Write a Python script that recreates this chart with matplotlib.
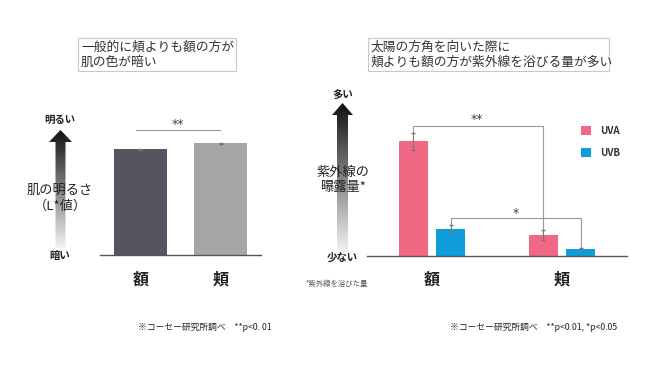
import numpy as np
import matplotlib
matplotlib.use("Agg")
import matplotlib.pyplot as plt
from matplotlib.patches import Polygon, Rectangle
from matplotlib.colors import LinearSegmentedColormap

plt.rcParams['font.family'] = ['Noto Sans CJK JP', 'DejaVu Sans']

# ===============================
# data
# ===============================
# left: skin brightness (L* value)
skin_parts = ["額", "頬"]
skin_l = [61.5, 65.0]
skin_l_err = [0.3, 0.3]

# right: UV exposure (relative)
uv_parts = ["額", "頬"]
uva = [1.00, 0.183]
uva_err = [0.074, 0.043]
uvb = [0.235, 0.065]
uvb_err = [0.039, 0.009]

# colours
C_FORE = "#55545f"
C_CHEEK = "#a6a6a6"
C_UVA = "#f06883"
C_UVB = "#0d9ddb"
C_AXIS = "#555555"
C_SIG = "#999999"

W, H = 650, 366


def px(x0, y0, x1, y1):
    # pixel box -> figure fraction rect
    return [x0 / W, 1 - y1 / H, (x1 - x0) / W, (y1 - y0) / H]


fig = plt.figure(figsize=(6.5, 3.66), dpi=100)

# ===============================
# left chart
# ===============================
axl = fig.add_axes(px(100, 100, 261, 255))
xl = np.arange(len(skin_parts))
axl.bar(xl, skin_l, width=0.66, color=[C_FORE, C_CHEEK], zorder=2)
axl.errorbar(xl, skin_l, yerr=skin_l_err, fmt='none', ecolor="#777777",
             elinewidth=0.8, capsize=1.5, zorder=3)
axl.set_xlim(-0.5, 1.5)
axl.set_ylim(0, 90)
axl.plot([-0.05, 0.99], [72.6, 72.6], color=C_SIG, lw=0.8)
for s in ["top", "right", "left"]:
    axl.spines[s].set_visible(False)
axl.spines["bottom"].set_color(C_AXIS)
axl.spines["bottom"].set_linewidth(1.0)
axl.set_xticks([])
axl.set_yticks([])
axl.patch.set_alpha(0)

# ===============================
# right chart
# ===============================
axr = fig.add_axes(px(367, 100, 627, 256))
xr = np.arange(len(uv_parts))
off, bw = 0.144, 0.223
axr.bar(xr - off, uva, width=bw, color=C_UVA, label="UVA", zorder=2)
axr.bar(xr + off, uvb, width=bw, color=C_UVB, label="UVB", zorder=2)
axr.errorbar(xr - off, uva, yerr=uva_err, fmt='none', ecolor="#777777",
             elinewidth=0.8, capsize=1.5, zorder=3)
axr.errorbar(xr + off, uvb, yerr=uvb_err, fmt='none', ecolor="#777777",
             elinewidth=0.8, capsize=1.5, zorder=3)
axr.set_xlim(-0.5, 1.5)
axr.set_ylim(0, 1.36)

# significance brackets
axr.plot([0 - off, 0 - off, 1 - off, 1 - off],
         [uva[0] + uva_err[0], 1.13, 1.13, uva[1] + uva_err[1]],
         color=C_SIG, lw=0.8, zorder=1)
axr.plot([0 + off, 0 + off, 1 + off, 1 + off],
         [uvb[0] + uvb_err[0], 0.33, 0.33, uvb[1] + uvb_err[1]],
         color=C_SIG, lw=0.8, zorder=1)

for s in ["top", "right", "left"]:
    axr.spines[s].set_visible(False)
axr.spines["bottom"].set_color(C_AXIS)
axr.spines["bottom"].set_linewidth(1.0)
axr.set_xticks([])
axr.set_yticks([])
axr.patch.set_alpha(0)

leg = axr.legend(loc="upper left", bbox_to_anchor=(581 / W, 1 - 126 / H),
                 bbox_transform=fig.transFigure, frameon=False,
                 handlelength=1.05, handleheight=1.05, handletextpad=0.9,
                 labelspacing=1.2, borderpad=0, borderaxespad=0,
                 prop={"size": 7, "weight": "bold"})
for t in leg.get_texts():
    t.set_color("#333333")

# ===============================
# overlay: arrows, labels, boxes
# ===============================
ov = fig.add_axes([0, 0, 1, 1], zorder=-1)
ov.set_axis_off()

cmap = LinearSegmentedColormap.from_list("arr", ["#111111", "#f3f3f3"])
grad = np.linspace(0, 1, 256).reshape(-1, 1)


def grad_arrow(cx, tip, head_base, bottom, shaft_hw, head_hw):
    pts = [(cx, tip), (cx + head_hw, head_base), (cx + shaft_hw, head_base),
           (cx + shaft_hw, bottom), (cx - shaft_hw, bottom),
           (cx - shaft_hw, head_base), (cx - head_hw, head_base)]
    poly = Polygon(pts, closed=True, facecolor="none", edgecolor="none")
    ov.add_patch(poly)
    im = ov.imshow(grad, cmap=cmap, aspect="auto", origin="upper",
                   extent=(cx - head_hw, cx + head_hw, bottom, tip))
    im.set_clip_path(poly)


grad_arrow(60.5, 130, 142, 248, 5, 11.5)
grad_arrow(342.5, 103, 115, 252, 5.5, 10.5)
ov.set_xlim(0, W)
ov.set_ylim(H, 0)

# title boxes
ov.add_patch(Rectangle((78, 38), 158, 33, facecolor="white",
                       edgecolor="#c8c8c8", lw=0.8))
ov.text(81, 47, "一般的に頬よりも額の方が", fontsize=9.2, color="#333333", va="center")
ov.text(81, 62, "肌の色が暗い", fontsize=9.2, color="#333333", va="center")
ov.add_patch(Rectangle((368, 38), 241, 33, facecolor="white",
                       edgecolor="#c8c8c8", lw=0.8))
ov.text(371, 47, "太陽の方角を向いた際に", fontsize=9.2, color="#333333", va="center")
ov.text(371, 62, "頬よりも額の方が紫外線を浴びる量が多い", fontsize=9.2,
        color="#333333", va="center")

# left axis labels
ov.text(60, 120, "明るい", fontsize=7.5, weight="bold", ha="center", va="center", color="#222222")
ov.text(60, 256, "暗い", fontsize=7.5, weight="bold", ha="center", va="center", color="#222222")
ov.text(60, 190, "肌の明るさ", fontsize=9.5, ha="center", va="center", color="#222222")
ov.text(60, 206, "（L*値）", fontsize=9.5, ha="center", va="center", color="#222222")
ov.text(177.5, 124.5, "**", fontsize=9, family="DejaVu Sans", ha="center",
        va="center", color="#444444")
for i, name in enumerate(skin_parts):
    ov.text(140.5 + 80.5 * i, 280, name, fontsize=11.5, weight="bold",
            ha="center", va="center", color="#222222")
ov.text(205, 327, "※コーセー研究所調べ　**p<0. 01", fontsize=6.3,
        ha="center", va="center", color="#222222")

# right axis labels
ov.text(342.5, 96, "多い", fontsize=7.5, weight="bold", ha="center", va="center", color="#222222")
ov.text(342.5, 258, "少ない", fontsize=7.5, weight="bold", ha="center", va="center", color="#222222")
ov.text(342.5, 172, "紫外線の", fontsize=9.5, ha="center", va="center", color="#222222")
ov.text(342.5, 188, "曝露量*", fontsize=9.5, ha="center", va="center", color="#222222")
ov.text(477, 119.5, "**", fontsize=9, family="DejaVu Sans", ha="center",
        va="center", color="#444444")
ov.text(516, 214, "*", fontsize=9, family="DejaVu Sans", ha="center",
        va="center", color="#444444")
for i, name in enumerate(uv_parts):
    ov.text(432 + 130 * i, 280, name, fontsize=11.5, weight="bold",
            ha="center", va="center", color="#222222")
ov.text(306, 284, "*紫外線を浴びた量", fontsize=5.3, ha="left", va="center", color="#555555")
ov.text(534, 327, "※コーセー研究所調べ　**p<0.01, *p<0.05", fontsize=6.3,
        ha="center", va="center", color="#222222")

fig.savefig("out.png", dpi=100, facecolor="white")
